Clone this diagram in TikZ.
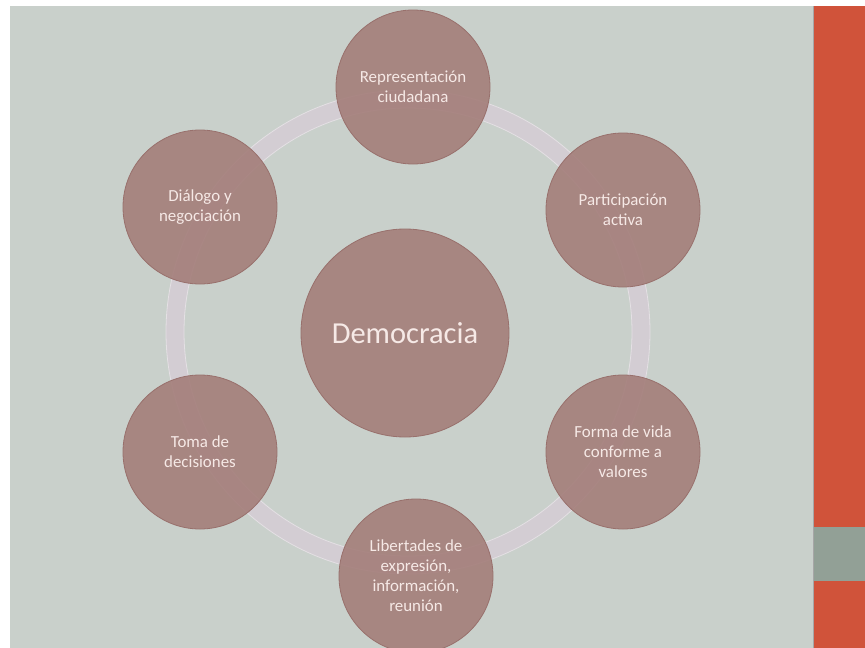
\documentclass[tikz,border=0pt]{standalone}
\usepackage{fontspec}
\setmainfont{Carlito}
\definecolor{bggray}{HTML}{C9D0CB}
\definecolor{barred}{HTML}{D0533A}
\definecolor{bargreen}{HTML}{92A096}
\definecolor{bubfill}{HTML}{A47E7A}
\definecolor{bubedge}{HTML}{98706C}
\definecolor{bubtext}{HTML}{F6E9E6}
\definecolor{ringcol}{HTML}{D3CDD3}
\definecolor{ringedge}{HTML}{E4E0E4}
\tikzset{
  bub/.style={circle, minimum size=154pt, inner sep=0pt, fill=bubfill, fill opacity=0.9,
    text opacity=1, draw=bubedge, line width=0.8pt, text=bubtext, align=center,
    font=\fontsize{16.9}{20}\selectfont},
  bigbub/.style={bub, minimum size=208pt, font=\fontsize{30.5}{36}\selectfont},
  ringstyle/.style={circle, minimum size=466pt, inner sep=0pt, draw=ringcol, line width=18pt},
}
\begin{document}
\begin{tikzpicture}[x=1pt,y=-1pt]
\useasboundingbox (0,0) rectangle (865,648);
\fill[white] (0,0) rectangle (865,648);
\fill[bggray] (10,6) rectangle (813,648);
\fill[barred] (814,6) rectangle (865,527);
\fill[bargreen] (814,527) rectangle (865,581);
\fill[barred] (814,581) rectangle (865,648);
\draw[color=gray!70, line width=1pt] (813.5,6) -- (813.5,648);
% ring
\node[ringstyle] (ring) at (408,332) {};
\draw[ringedge, line width=0.8pt] (408,332) circle (224);
\draw[ringedge, line width=0.8pt] (408,332) circle (242);
% bubbles
\node[bigbub] (c) at (405,333) {Democracia};
\node[bub] (n1) at (413,87) {Representación\\ciudadana};
\node[bub] (n2) at (623,210) {Participación\\activa};
\node[bub] (n3) at (623,452) {Forma de vida\\conforme a\\valores};
\node[bub] (n4) at (416,576) {Libertades de\\expresión,\\información,\\reunión};
\node[bub] (n5) at (200,452) {Toma de\\decisiones};
\node[bub] (n6) at (200,207) {Diálogo y\\negociación};
\end{tikzpicture}
\end{document}
